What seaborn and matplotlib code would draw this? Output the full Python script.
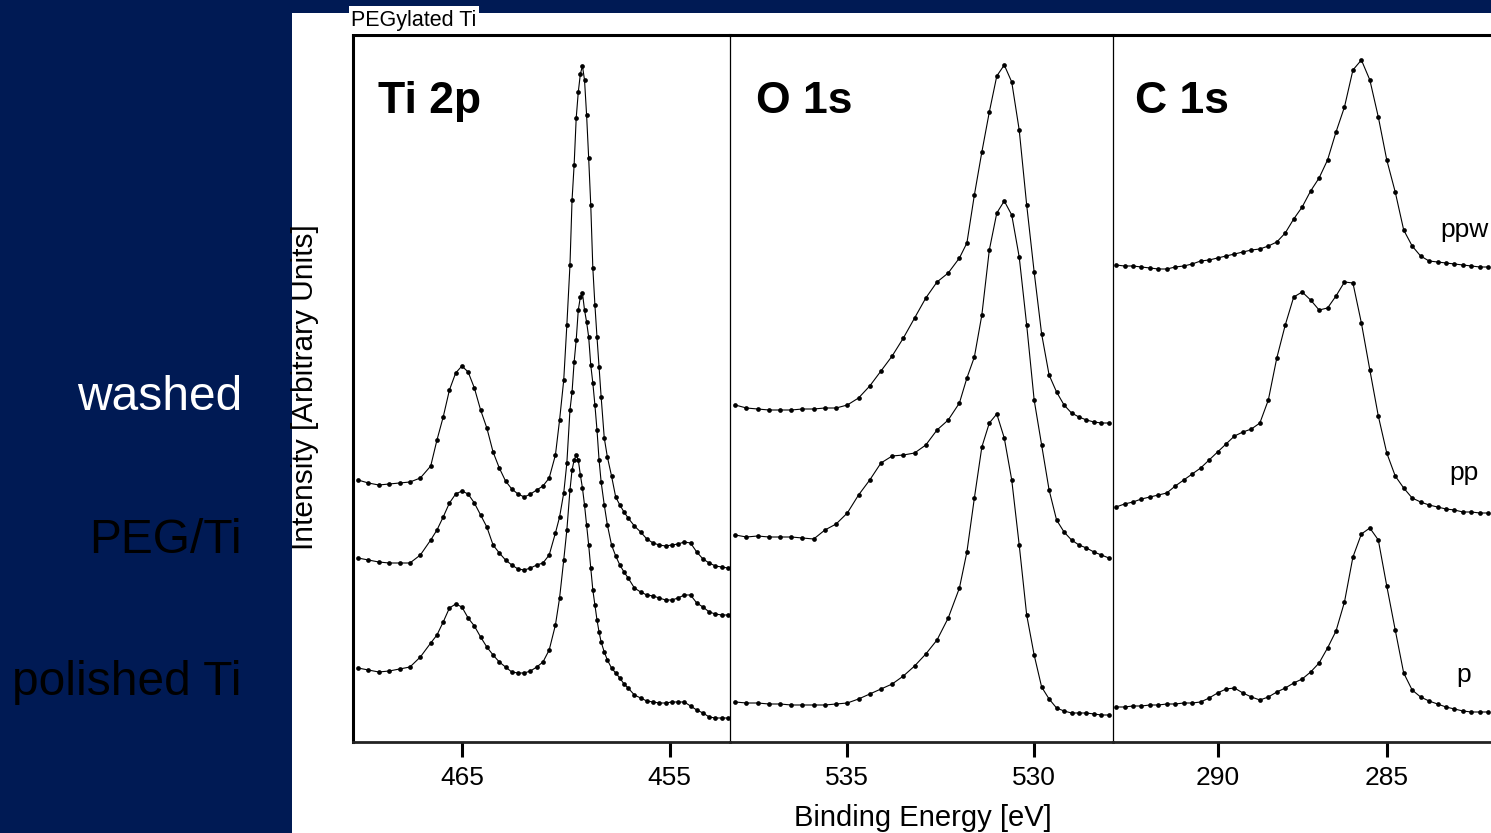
import matplotlib
matplotlib.use("Agg")
import matplotlib.pyplot as plt
import seaborn as sns
from matplotlib.patches import Rectangle

# --- Spectra (binding energy in eV, intensity in arbitrary stacked units) ---
TI_BE = [470.0, 469.5, 469.0, 468.5, 468.0, 467.5, 467.0, 466.5, 466.2, 465.9,
         465.6, 465.3, 465.0, 464.7, 464.4, 464.1, 463.8, 463.5, 463.2, 462.9,
         462.6, 462.3, 462.0, 461.7, 461.4, 461.1, 460.8, 460.5, 460.3, 460.1,
         459.95, 459.8, 459.7, 459.6, 459.5, 459.4, 459.3, 459.2, 459.1, 459.0,
         458.9, 458.8, 458.7, 458.6, 458.5, 458.4, 458.3, 458.15, 458.0, 457.8,
         457.6, 457.4, 457.2, 457.0, 456.7, 456.4, 456.1, 455.8, 455.5, 455.2,
         454.9, 454.6, 454.3, 454.0, 453.7, 453.4, 453.1, 452.8, 452.5, 452.2]
TI_WASHED = [262, 259, 257, 258, 259, 260, 264, 276, 302, 325,
             352, 369, 376, 370, 354, 332, 314, 290, 274, 261,
             253, 248, 245, 248, 252, 256, 264, 287, 322, 362,
             417, 477, 542, 577, 624, 650, 668, 676, 662, 627,
             584, 537, 474, 437, 405, 375, 345, 304, 285, 266,
             245, 237, 230, 224, 216, 210, 203, 199, 197, 196,
             197, 198, 200, 199, 190, 183, 179, 176, 175, 174]
TI_PEG = [184, 182, 180, 179, 179, 179, 187, 202, 212, 225,
          239, 248, 251, 248, 239, 227, 215, 197, 189, 182,
          177, 173, 172, 174, 177, 179, 187, 209, 225, 249,
          279, 332, 350, 380, 402, 432, 445, 449, 432, 420,
          405, 377, 359, 337, 312, 282, 260, 237, 217, 197,
          186, 177, 170, 164, 154, 150, 147, 146, 144, 142,
          142, 144, 147, 147, 139, 135, 130, 128, 127, 127]
TI_POLISHED = [74, 72, 70, 71, 73, 75, 85, 99, 107, 120,
               134, 138, 135, 124, 116, 105, 95, 87, 80, 75,
               70, 69, 69, 71, 75, 80, 92, 117, 144, 182,
               212, 252, 272, 282, 287, 282, 267, 254, 237, 217,
               197, 174, 152, 137, 122, 110, 100, 90, 82, 74,
               69, 64, 58, 54, 47, 44, 41, 40, 39, 39,
               40, 40, 40, 36, 32, 29, 25, 24, 24, 24]

O_BE = [538.0, 537.7, 537.4, 537.1, 536.8, 536.5, 536.2, 535.9, 535.6, 535.3,
        535.0, 534.7, 534.4, 534.1, 533.8, 533.5, 533.2, 532.9, 532.6, 532.3,
        532.0, 531.8, 531.6, 531.4, 531.2, 531.0, 530.8, 530.6, 530.4, 530.2,
        530.0, 529.8, 529.6, 529.4, 529.2, 529.0, 528.8, 528.6, 528.4, 528.2, 528.0]
O_WASHED = [337, 334, 333, 332, 332, 332, 333, 333, 334, 334,
            337, 344, 356, 371, 386, 404, 424, 444, 460, 469,
            484, 499, 547, 590, 630, 666, 677, 660, 612, 537,
            470, 408, 367, 350, 337, 329, 325, 322, 320, 319, 319]
O_PEG = [207, 205, 206, 205, 205, 205, 204, 203, 212, 218,
         229, 247, 262, 279, 286, 287, 289, 297, 312, 322,
         339, 364, 385, 427, 492, 529, 541, 527, 485, 417,
         342, 297, 252, 222, 210, 202, 197, 194, 190, 187, 184]
O_POLISHED = [40, 39, 39, 38, 38, 37, 37, 37, 37, 38,
              39, 43, 48, 53, 58, 66, 76, 88, 102, 124,
              154, 190, 244, 295, 319, 328, 304, 262, 197, 127,
              87, 55, 43, 34, 31, 29, 29, 29, 28, 27, 27]

C_BE = [293.0, 292.75, 292.5, 292.25, 292.0, 291.75, 291.5, 291.25, 291.0, 290.75,
        290.5, 290.25, 290.0, 289.75, 289.5, 289.25, 289.0, 288.75, 288.5, 288.25,
        288.0, 287.75, 287.5, 287.25, 287.0, 286.75, 286.5, 286.25, 286.0, 285.75,
        285.5, 285.25, 285.0, 284.75, 284.5, 284.25, 284.0, 283.75, 283.5, 283.25,
        283.0, 282.75, 282.5, 282.25, 282.0]
C_WASHED = [477, 476, 476, 475, 474, 473, 473, 475, 476, 478,
            481, 482, 484, 486, 488, 490, 492, 493, 496, 500,
            509, 523, 535, 551, 564, 582, 610, 635, 672, 682,
            662, 625, 582, 550, 512, 496, 486, 481, 480, 479,
            478, 477, 476, 475, 475]
C_PEG = [235, 238, 240, 243, 245, 247, 249, 256, 262, 268,
         274, 282, 290, 298, 306, 310, 313, 319, 342, 384,
         417, 445, 450, 442, 432, 434, 446, 460, 459, 419,
         372, 326, 289, 266, 254, 244, 240, 237, 235, 233,
         232, 230, 230, 229, 229]
C_POLISHED = [35, 35, 36, 36, 37, 37, 38, 38, 39, 39,
              40, 44, 49, 53, 54, 49, 45, 42, 45, 50,
              54, 59, 63, 70, 79, 94, 111, 140, 185, 208,
              214, 202, 156, 112, 69, 52, 45, 41, 38, 35,
              33, 31, 30, 30, 30]

PANEL_TITLES = ["Ti 2p", "O 1s", "C 1s"]
PANEL_TICKS = [[465, 455], [535, 530], [290, 285]]
ROW_LABELS = ["washed", "PEG/Ti", "polished Ti"]
C_TAGS = ["ppw", "pp", "p"]

NAVY = "#001a54"

sns.set_style("ticks")
plt.rcParams["font.family"] = ["Liberation Sans", "DejaVu Sans"]

fig = plt.figure(figsize=(14.91, 8.33), dpi=100, facecolor=NAVY)
W, H = 1491.0, 833.0

# white slide area, kept behind everything
slide = Rectangle((292 / W, 0), 1 - 292 / W, (H - 12.7) / H,
                  transform=fig.transFigure, facecolor="white",
                  edgecolor="none", zorder=-10)
fig.patches.append(slide)

ax_bottom = (H - 742) / H
ax_height = 707 / H
ax_ti = fig.add_axes([353 / W, ax_bottom, 377 / W, ax_height])
ax_o = fig.add_axes([730 / W, ax_bottom, 383 / W, ax_height])
ax_c = fig.add_axes([1113 / W, ax_bottom, 378 / W, ax_height])

panels = [
    (ax_ti, TI_BE, [TI_WASHED, TI_PEG, TI_POLISHED], (470.24, 452.1)),
    (ax_o, O_BE, [O_WASHED, O_PEG, O_POLISHED], (538.14, 527.89)),
    (ax_c, C_BE, [C_WASHED, C_PEG, C_POLISHED], (293.09, 281.92)),
]

title_x = [0.066, 0.068, 0.058]
for i, (ax, be, rows, xlim) in enumerate(panels):
    ax.set_facecolor("none")
    for vals in rows:
        sns.lineplot(x=be, y=vals, ax=ax, color="black", lw=0.8, sort=False,
                     marker="o", markersize=3.4, markeredgewidth=0,
                     markerfacecolor="black")
    ax.set_xlim(*xlim)
    ax.set_ylim(0, 707)
    ax.set_yticks([])
    ax.set_xticks(PANEL_TICKS[i])
    ax.set_xticklabels([str(t) for t in PANEL_TICKS[i]])
    ax.tick_params(axis="x", which="major", bottom=True, direction="out",
                   length=11, width=2.2, labelsize=19, pad=6,
                   color="black", labelcolor="black")
    ax.set_xlabel("")
    ax.set_ylabel("")
    for side in ["top", "bottom", "left", "right"]:
        ax.spines[side].set_color("black")
    ax.spines["top"].set_linewidth(2.2)
    ax.spines["bottom"].set_linewidth(2.0)
    ax.spines["bottom"].set_color("#222222")
    ax.text(title_x[i], 0.8897, PANEL_TITLES[i], transform=ax.transAxes,
            fontsize=32, fontweight="bold", va="baseline", ha="left",
            color="black")

ax_ti.spines["left"].set_linewidth(2.2)
ax_ti.spines["right"].set_linewidth(0.9)
ax_o.spines["left"].set_visible(False)
ax_o.spines["right"].set_linewidth(0.9)
ax_c.spines["left"].set_visible(False)
ax_c.spines["right"].set_visible(False)

# sample tags in the C 1s panel
for tag, yb in zip(C_TAGS, [0.714, 0.3706, 0.0849]):
    ax_c.text(0.9286, yb, tag, transform=ax_c.transAxes, fontsize=19,
              ha="center", va="baseline", color="black")

# shared axis labels
fig.text(923 / W, (H - 818) / H, "Binding Energy [eV]", fontsize=21,
         ha="center", va="center", color="black")
fig.text(305 / W, (H - 387) / H, "Intensity [Arbitrary Units]", fontsize=21.5,
         rotation=90, ha="center", va="center", color="black")

# top caption with its white box
fig.add_artist(Rectangle((349 / W, (H - 34) / H), 130 / W, 28 / H,
                         transform=fig.transFigure, facecolor="white",
                         edgecolor="none", zorder=1))
fig.text(351 / W, (H - 26) / H, "PEGylated Ti", fontsize=15.5,
         ha="left", va="baseline", zorder=2, color="black")

# row labels on the navy side bar
for label, yb, col in zip(ROW_LABELS, [410, 553, 695], ["white", "black", "black"]):
    fig.text(242 / W, (H - yb) / H, label, fontsize=34.5, color=col,
             ha="right", va="baseline")

fig.savefig("out.png", dpi=100, facecolor=NAVY)
